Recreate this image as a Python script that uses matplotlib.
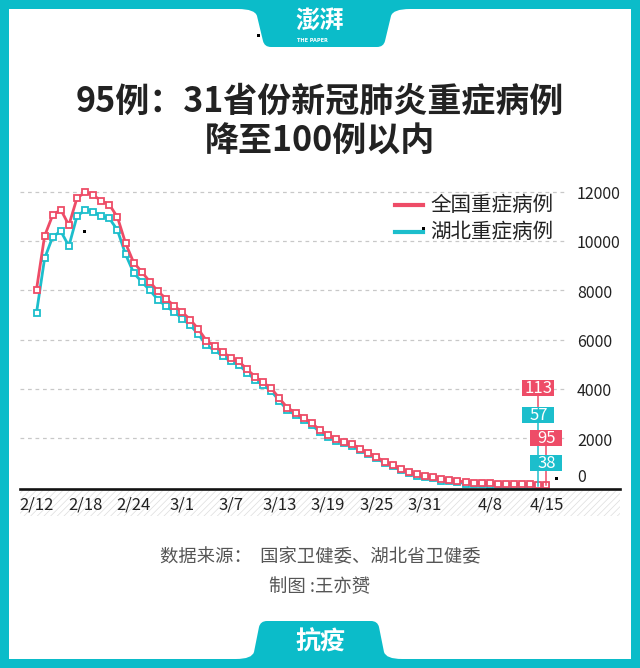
import numpy as np
import matplotlib
matplotlib.use("Agg")
import matplotlib.pyplot as plt
from matplotlib.patches import Rectangle, PathPatch
from matplotlib.path import Path
from matplotlib.lines import Line2D
from matplotlib.transforms import Affine2D

plt.rcParams['font.family'] = ['Noto Sans CJK SC', 'DejaVu Sans']
plt.rcParams['hatch.linewidth'] = 0.5

# ---------------- data ----------------
dates = (['2/%d' % d for d in range(12, 30)] +
         ['3/%d' % d for d in range(1, 32)] +
         ['4/%d' % d for d in range(1, 16)])

national = [8030, 10204, 11053, 11272, 10644, 11741, 11977, 11864, 11633, 11477,
            10968, 9915, 9126, 8752, 8346, 7952, 7664, 7365,
            7110, 6806, 6416, 5952, 5737, 5489, 5264, 5111, 4794, 4492,
            4257, 4020, 3610, 3226, 3032, 2830, 2622, 2314, 2136, 1963,
            1845, 1749, 1573, 1399, 1235, 1034, 921, 742, 633, 528, 466,
            429, 325, 295, 267, 211, 189, 176, 165, 144, 139, 121, 122, 119, 113, 95]

hubei = [7084, 9290, 10170, 10400, 9790, 11000, 11260, 11190, 11010, 10920,
         10440, 9460, 8710, 8340, 8000, 7620, 7350, 7120,
         6850, 6580, 6210, 5760, 5560, 5330, 5110, 4970, 4660, 4370,
         4140, 3910, 3510, 3130, 2940, 2745, 2540, 2237, 2062, 1895,
         1780, 1686, 1512, 1341, 1178, 980, 868, 690, 582, 476, 414,
         375, 270, 238, 209, 152, 128, 118, 108, 90, 85, 72, 70, 63, 57, 38]

series_names = ['全国重症病例', '湖北重症病例']
xtick_labels = ['2/12', '2/18', '2/24', '3/1', '3/7', '3/13', '3/19', '3/25', '3/31', '4/8', '4/15']
yticks = [0, 2000, 4000, 6000, 8000, 10000, 12000]

title_lines = ['95例：31省份新冠肺炎重症病例', '降至100例以内']
source_text = '数据来源：  国家卫健委、湖北省卫健委'
author_text = '制图 :王亦赟'
footer_text = '抗疫'

RED = '#EE4C67'
CYAN = '#1CBECC'
TEAL = '#0BBCC9'

# ---------------- figure ----------------
W, H = 640, 668
fig = plt.figure(figsize=(W / 100, H / 100), dpi=100)
fig.patch.set_facecolor(TEAL)
PX = Affine2D().scale(1 / W, -1 / H).translate(0, 1) + fig.transFigure

def fy(py):
    return 1 - py / H

# white panel
fig.add_artist(Rectangle((9, 9), 622, 650, transform=PX, facecolor='white',
                         edgecolor='none', zorder=-10))

# header tab
hv = [(238, 0), (238, 9), (255, 9), (257, 16), (263, 41), (264.5, 47), (271, 47),
      (377, 47), (383.5, 47), (385, 41), (391, 16), (393, 9), (410, 9), (410, 0), (238, 0)]
hc = [Path.MOVETO, Path.LINETO, Path.CURVE3, Path.CURVE3, Path.LINETO, Path.CURVE3, Path.CURVE3,
      Path.LINETO, Path.CURVE3, Path.CURVE3, Path.LINETO, Path.CURVE3, Path.CURVE3, Path.LINETO,
      Path.CLOSEPOLY]
fig.add_artist(PathPatch(Path(hv, hc), transform=PX, facecolor=TEAL, edgecolor='none', zorder=-5))
fig.text(320 / W, fy(22), '澎湃', ha='center', va='center', fontsize=17.5,
         fontweight='bold', color='white')
fig.text(312 / W, fy(40.5), 'THE PAPER', ha='center', va='center', fontsize=3.6,
         fontweight='bold', color='white', family=['DejaVu Sans'])

# footer tab
fv = [(236, 668), (236, 659), (252, 659), (254, 652), (259, 627), (260.5, 621), (267, 621),
      (371, 621), (377.5, 621), (379, 627), (384, 652), (386, 659), (402, 659), (402, 668), (236, 668)]
fc = [Path.MOVETO, Path.LINETO, Path.CURVE3, Path.CURVE3, Path.LINETO, Path.CURVE3, Path.CURVE3,
      Path.LINETO, Path.CURVE3, Path.CURVE3, Path.LINETO, Path.CURVE3, Path.CURVE3, Path.LINETO,
      Path.CLOSEPOLY]
fig.add_artist(PathPatch(Path(fv, fc), transform=PX, facecolor=TEAL, edgecolor='none', zorder=-5))
fig.text(320 / W, fy(642), footer_text, ha='center', va='center', fontsize=18,
         fontweight='bold', color='white')

# title
fig.text(320 / W, fy(101), title_lines[0], ha='center', va='center', fontsize=24.5,
         fontweight='bold', color='#222222')
fig.text(320 / W, fy(141), title_lines[1], ha='center', va='center', fontsize=24.5,
         fontweight='bold', color='#222222')

# source
fig.text(320 / W, fy(557), source_text, ha='center', va='center', fontsize=13.2, color='#555555')
fig.text(320 / W, fy(587), author_text, ha='center', va='center', fontsize=13.2, color='#555555')

# hatched band under axis
fig.add_artist(Rectangle((20, 490), 600, 26, transform=PX, facecolor='white',
                         edgecolor='#dddddd', linewidth=0, hatch='/////', zorder=-4))

# ---------------- axes ----------------
x0px, dxpx = 36.5, 8.095        # pixel of first date, pixels per day
y0px, dypx = 487.3, 0.02463     # pixel of value 0, pixels per unit

def X(px):
    return (px - x0px) / dxpx

def Y(py):
    return (y0px - py) / dypx

ax = fig.add_axes([20 / W, 1 - 489 / H, 600 / W, 309 / H])
ax.set_xlim(X(20), X(620))
ax.set_ylim(Y(489), Y(180))
ax.axis('off')
ax.patch.set_alpha(0)

x = np.arange(len(dates))

for v in yticks[1:]:
    ax.plot([X(20), X(567)], [v, v], ls=(0, (3, 3)), color='#c8c8c8', lw=0.9, zorder=1)

for v in yticks:
    yy = v - 3 / dypx if v > 0 else Y(478)
    ax.text(X(577), yy, str(v), ha='left', va='center', fontsize=11.5, color='#222222')

ax.plot(x, hubei, color=CYAN, lw=2, marker='s', ms=4.8, mfc='white', mec=CYAN, mew=1.3, zorder=3)
ax.plot(x, national, color=RED, lw=2, marker='s', ms=4.8, mfc='white', mec=RED, mew=1.3, zorder=4)

for lab in xtick_labels:
    ax.text(dates.index(lab), Y(505), lab, ha='center', va='center', fontsize=12,
            color='#222222', clip_on=False)

# end labels
i14, i15 = len(dates) - 2, len(dates) - 1
bw, bh = 32 / dxpx, 16 / dypx
boxes = [(i14, national[i14], Y(388), RED), (i14, hubei[i14], Y(415), CYAN),
         (i15, national[i15], Y(438), RED), (i15, hubei[i15], Y(463), CYAN)]
# connectors
ax.plot([i14, i14], [Y(388), Y(415)], color=RED, lw=1.1, zorder=5)
ax.plot([i14, i14], [Y(415), hubei[i14]], color=CYAN, lw=1.1, zorder=5)
ax.plot([i15, i15], [Y(438), national[i15]], color=RED, lw=1.1, zorder=5)
for xi, val, yc, col in boxes:
    ax.add_patch(Rectangle((xi - bw / 2, yc - bh / 2), bw, bh, facecolor=col,
                           edgecolor='none', zorder=6, clip_on=False))
    ax.text(xi, yc - 0.5 / dypx, str(val), ha='center', va='center', fontsize=12,
            color='white', zorder=7, clip_on=False)

# legend
for k, (name, col) in enumerate(zip(series_names, [RED, CYAN])):
    yy = 205 + 27 * k
    fig.add_artist(Line2D([395, 423], [yy, yy], transform=PX, color=col, lw=3))
    fig.text(430 / W, fy(yy), name, ha='left', va='center', fontsize=14.8, color='#222222')

# x axis line
fig.add_artist(Line2D([20, 620], [488.5, 488.5], transform=PX, color='#111111', lw=1.9, zorder=2))

# stray dots in the original
for dx_, dy_ in [(258, 35), (84, 231), (423, 228), (556, 478)]:
    fig.add_artist(Rectangle((dx_ - 1.5, dy_ - 1.5), 3, 3, transform=PX,
                             facecolor='black', edgecolor='none', zorder=8))

fig.savefig('out.png', dpi=100, facecolor=fig.get_facecolor())
